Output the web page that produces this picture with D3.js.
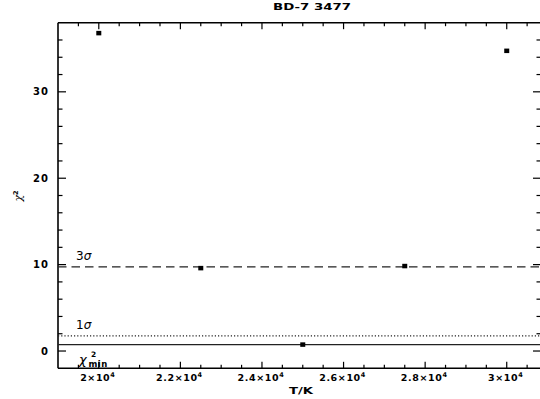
<!DOCTYPE html>
<html>
<head>
<meta charset="utf-8">
<script src="https://cdn.jsdelivr.net/npm/d3@7"></script>
<style>
  body { margin: 0; background: #fff; }
  svg { display: block; }
  text { font-family: "DejaVu Sans", sans-serif; fill: #000; }
</style>
</head>
<body>
<svg id="chart" width="540" height="399"></svg>
<script>
// Temperature grid and chi-square of the fit at each temperature
const temperatures = [20000, 22500, 25000, 27500, 30000];
const chiSquare = [36.8, 9.6, 0.75, 9.84, 34.75];

// Reference levels: minimum, 1-sigma and 3-sigma thresholds
const chiMin = 0.75;
const levels = [
  { name: "min", value: chiMin },
  { name: "1σ", value: chiMin + 1 },
  { name: "3σ", value: chiMin + 9 }
];

const xTickValues = [20000, 22000, 24000, 26000, 28000, 30000];
const xTickMantissa = ["2", "2.2", "2.4", "2.6", "2.8", "3"];
const yTickValues = [0, 10, 20, 30];

const svg = d3.select("#chart");

const x = d3.scaleLinear().domain([19000, 30840]).range([58, 541]);
const y = d3.scaleLinear().domain([-2, 38]).range([368.3, 22.7]);

const x0 = x.range()[0], x1 = x.range()[1];
const y0 = y.range()[0], y1 = y.range()[1];

// Frame
const frame = svg.append("g").attr("stroke", "#000").attr("stroke-width", 1.6);
frame.append("line").attr("x1", x0).attr("x2", x0).attr("y1", y1).attr("y2", y0);
frame.append("line").attr("x1", x0).attr("x2", x1).attr("y1", y0).attr("y2", y0);
frame.append("line").attr("x1", x0).attr("x2", x1).attr("y1", y1).attr("y2", y1);
frame.append("line").attr("x1", x1).attr("x2", x1).attr("y1", y1).attr("y2", y0);

// Inward ticks on all four sides
const xMinor = d3.range(19500, 30840, 500);
const yMinor = d3.range(0, 38, 2);
const ticks = svg.append("g").attr("stroke", "#000").attr("stroke-width", 1.2);
xMinor.forEach(v => {
  const len = (v % 2000 === 0) ? 6.5 : 3.5;
  ticks.append("line").attr("x1", x(v)).attr("x2", x(v)).attr("y1", y0).attr("y2", y0 - len);
  ticks.append("line").attr("x1", x(v)).attr("x2", x(v)).attr("y1", y1).attr("y2", y1 + len);
});
yMinor.forEach(v => {
  const len = (v % 10 === 0) ? 8 : 4.5;
  ticks.append("line").attr("x1", x0).attr("x2", x0 + len).attr("y1", y(v)).attr("y2", y(v));
  ticks.append("line").attr("x1", x1).attr("x2", x1 - len).attr("y1", y(v)).attr("y2", y(v));
});

// X tick labels: mantissa × 10^4
xTickValues.forEach((v, i) => {
  const t = svg.append("text")
    .attr("x", x(v) - 1).attr("y", y0 + 13)
    .attr("text-anchor", "middle")
    .attr("font-size", 9.5).attr("font-weight", "bold")
    .attr("letter-spacing", 0.6);
  t.append("tspan").text(xTickMantissa[i] + "×10");
  t.append("tspan").attr("dy", -4).attr("font-size", 6.5).text("4");
});

// Y tick labels
yTickValues.forEach(v => {
  svg.append("text")
    .attr("x", x0 - 9).attr("y", y(v) + 3.5)
    .attr("text-anchor", "end")
    .attr("font-size", 10).attr("font-weight", "bold")
    .attr("letter-spacing", 1)
    .text(v);
});

// Title and axis labels
svg.append("text").attr("x", 273).attr("y", 10)
  .attr("font-size", 9).attr("font-weight", "bold")
  .attr("textLength", 78).attr("lengthAdjust", "spacingAndGlyphs")
  .text("BD-7 3477");
svg.append("text").attr("x", 289).attr("y", 394)
  .attr("font-size", 9).attr("font-weight", "bold")
  .attr("textLength", 24).attr("lengthAdjust", "spacingAndGlyphs")
  .text("T/K");
const yl = svg.append("text")
  .attr("transform", "translate(22,196) rotate(-90)")
  .attr("text-anchor", "middle").attr("font-size", 11);
yl.append("tspan").attr("font-family", "DejaVu Serif").attr("font-style", "italic").text("χ");
yl.append("tspan").attr("dy", -4).attr("font-size", 6.5).attr("font-weight", "bold").text("2");

// Reference level lines
const lineStyle = { "min": null, "1σ": "1.2,2", "3σ": "8.5,5" };
levels.forEach(l => {
  svg.append("line")
    .attr("x1", x0).attr("x2", x1)
    .attr("y1", y(l.value)).attr("y2", y(l.value))
    .attr("stroke", "#222").attr("stroke-width", 1.2)
    .attr("stroke-dasharray", lineStyle[l.name]);
});

// Level annotations
levels.filter(l => l.name !== "min").forEach(l => {
  const t = svg.append("text")
    .attr("x", 76).attr("y", y(l.value) - 6.7)
    .attr("font-family", "DejaVu Serif").attr("font-size", 12);
  t.append("tspan").text(l.name[0]);
  t.append("tspan").attr("font-style", "italic").text(l.name.slice(1));
});
svg.append("text")
  .attr("x", 79).attr("y", 364)
  .attr("font-family", "DejaVu Serif").attr("font-style", "italic").attr("font-size", 13)
  .text("χ");
svg.append("text")
  .attr("x", 91).attr("y", 356.5)
  .attr("font-size", 7.5).attr("font-weight", "bold")
  .text("2");
svg.append("text")
  .attr("x", 88.5).attr("y", 367)
  .attr("font-size", 8.5).attr("font-weight", "bold").attr("letter-spacing", 0.5)
  .text("min");

// Data points
svg.append("g").selectAll("rect")
  .data(temperatures.map((t, i) => ({ t, c: chiSquare[i] })))
  .join("rect")
  .attr("x", d => x(d.t) - 2.5).attr("y", d => y(d.c) - 2.2)
  .attr("width", 5).attr("height", 4.5)
  .attr("fill", "#000");
</script>
</body>
</html>
